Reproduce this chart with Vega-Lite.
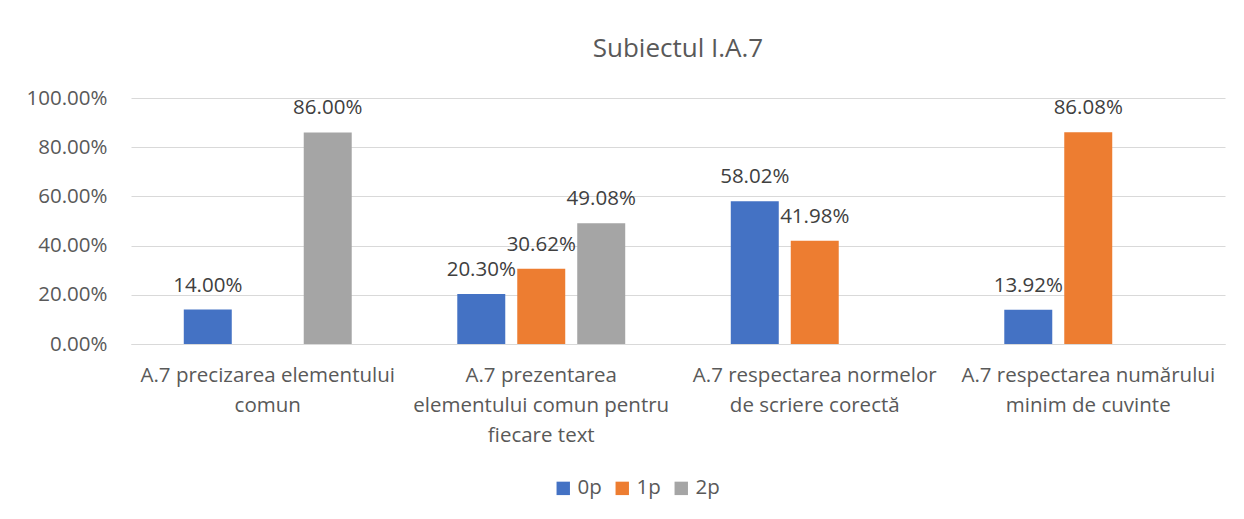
{
  "$schema": "https://vega.github.io/schema/vega-lite/v6.json",
  "autosize": {"type": "none"},
  "width": 1094,
  "height": 246,
  "padding": {"left": 131, "top": 98, "right": 19, "bottom": 175},
  "background": "white",
  "title": {
    "text": "Subiectul I.A.7",
    "font": "Open Sans",
    "fontSize": 26,
    "fontWeight": "normal",
    "color": "#595959",
    "anchor": "middle",
    "frame": "group",
    "offset": 26
  },
  "config": {
    "view": {"stroke": null},
    "font": "Open Sans"
  },
  "data": {
    "values": [
      {"category": "A.7 precizarea elementului comun", "series": "0p", "value": 0.14},
      {"category": "A.7 precizarea elementului comun", "series": "2p", "value": 0.86},
      {"category": "A.7 prezentarea elementului comun pentru fiecare text", "series": "0p", "value": 0.203},
      {"category": "A.7 prezentarea elementului comun pentru fiecare text", "series": "1p", "value": 0.3062},
      {"category": "A.7 prezentarea elementului comun pentru fiecare text", "series": "2p", "value": 0.4908},
      {"category": "A.7 respectarea normelor de scriere corectă", "series": "0p", "value": 0.5802},
      {"category": "A.7 respectarea normelor de scriere corectă", "series": "1p", "value": 0.4198},
      {"category": "A.7 respectarea numărului minim de cuvinte", "series": "0p", "value": 0.1392},
      {"category": "A.7 respectarea numărului minim de cuvinte", "series": "1p", "value": 0.8608}
    ]
  },
  "encoding": {
    "x": {
      "field": "category",
      "type": "nominal",
      "sort": null,
      "title": null,
      "scale": {"paddingInner": 0, "paddingOuter": 0},
      "axis": {
        "labelAngle": 0,
        "labelFont": "Open Sans",
        "labelFontSize": 20.5,
        "labelColor": "#595959",
        "labelLineHeight": 30,
        "labelPadding": 21,
        "labelBaseline": "top",
        "labelLimit": 400,
        "ticks": false,
        "domainColor": "#d9d9d9",
        "domainWidth": 1,
        "labelExpr": "datum.value == 'A.7 precizarea elementului comun' ? ['A.7 precizarea elementului', 'comun'] : datum.value == 'A.7 prezentarea elementului comun pentru fiecare text' ? ['A.7 prezentarea', 'elementului comun pentru', 'fiecare text'] : datum.value == 'A.7 respectarea normelor de scriere corectă' ? ['A.7 respectarea normelor', 'de scriere corectă'] : ['A.7 respectarea numărului', 'minim de cuvinte']"
      }
    },
    "xOffset": {
      "field": "series",
      "type": "nominal",
      "scale": {"domain": ["0p", "1p", "2p"], "paddingInner": 0.2, "paddingOuter": 0.88}
    },
    "y": {
      "field": "value",
      "type": "quantitative",
      "title": null,
      "scale": {"domain": [0, 1]},
      "axis": {
        "values": [0, 0.2, 0.4, 0.6, 0.8, 1],
        "format": ".2%",
        "labelFont": "Open Sans",
        "labelFontSize": 20.5,
        "labelColor": "#595959",
        "labelPadding": 24,
        "ticks": false,
        "domain": false,
        "gridColor": "#d9d9d9",
        "gridWidth": 1
      }
    }
  },
  "layer": [
    {
      "mark": {"type": "bar"},
      "encoding": {
        "color": {
          "field": "series",
          "type": "nominal",
          "title": null,
          "scale": {"domain": ["0p", "1p", "2p"], "range": ["#4472C4", "#ED7D31", "#A5A5A5"]},
          "legend": {
            "orient": "none",
            "legendX": 422,
            "legendY": 380,
            "direction": "horizontal",
            "symbolType": "square",
            "symbolSize": 180,
            "symbolStrokeWidth": 0,
            "labelFont": "Open Sans",
            "labelFontSize": 20.5,
            "labelColor": "#595959",
            "columnPadding": 10
          }
        }
      }
    },
    {
      "mark": {"type": "text", "baseline": "alphabetic", "dy": -18, "font": "Open Sans", "fontSize": 20.5, "color": "#404040"},
      "encoding": {
        "text": {"field": "value", "type": "quantitative", "format": ".2%"}
      }
    }
  ]
}
